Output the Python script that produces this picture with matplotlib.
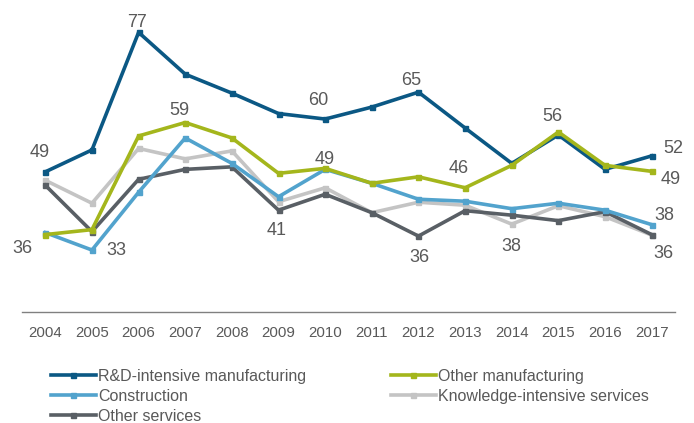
import matplotlib
matplotlib.use('Agg')
import matplotlib.pyplot as plt

plt.rcParams['font.family'] = ['Liberation Sans', 'DejaVu Sans']

years = ['2004', '2005', '2006', '2007', '2008', '2009', '2010',
         '2011', '2012', '2013', '2014', '2015', '2016', '2017']

rd_manuf = [49, 53.4, 77, 68.6, 64.8, 60.7, 59.6, 62.0, 65, 57.8, 50.7, 56.4, 49.5, 52.2]
other_manuf = [36.4, 37.4, 56.2, 58.9, 55.8, 48.7, 49.7, 46.7, 48.0, 45.8, 50.3, 57.0, 50.3, 49.1]
construction = [36.8, 33.3, 44.9, 55.8, 50.7, 44.0, 49.5, 46.7, 43.5, 43.1, 41.6, 42.7, 41.3, 38.4]
knowledge = [47.3, 42.7, 53.7, 51.6, 53.2, 43.0, 45.8, 40.8, 42.9, 42.3, 38.5, 42.2, 40.0, 36.3]
other_serv = [46.3, 37.0, 47.5, 49.5, 50.0, 41.3, 44.5, 40.8, 36.1, 41.2, 40.3, 39.2, 41.0, 36.4]

# (series, year index, label, dx px, dy px)
labels = [
    (rd_manuf, 0, '49', -6, 19),
    (other_manuf, 0, '36', -23, -14),
    (construction, 1, '33', 24, 0),
    (rd_manuf, 2, '77', -2, 10),
    (other_manuf, 3, '59', -6, 12),
    (other_serv, 5, '41', -2, -20),
    (rd_manuf, 6, '60', -7, 19),
    (construction, 6, '49', 0, 10),
    (rd_manuf, 8, '65', -7, 12),
    (other_serv, 8, '36', 1, -21),
    (other_manuf, 9, '46', -6, 19),
    (knowledge, 10, '38', 0, -22),
    (other_manuf, 11, '56', -6, 15),
    (rd_manuf, 13, '52', 22, 7),
    (other_manuf, 13, '49', 19, -8),
    (construction, 13, '38', 13, 9),
    (other_serv, 13, '36', 12, -19),
]

fig = plt.figure(figsize=(6.94, 4.23), dpi=100)
ax = fig.add_axes([22/694, (423-312.3)/423, (675-22)/694, 312.3/423])

x = list(range(len(years)))
lw = 2.6
ms = 3.6
l_ks, = ax.plot(x, knowledge, color='#C4C4C4', lw=lw, marker='s', ms=ms, label='Knowledge-intensive services', zorder=2)
l_os, = ax.plot(x, other_serv, color='#595F65', lw=lw, marker='s', ms=ms, label='Other services', zorder=3)
l_co, = ax.plot(x, construction, color='#52A3CD', lw=lw, marker='s', ms=ms, label='Construction', zorder=4)
l_rd, = ax.plot(x, rd_manuf, color='#0B5884', lw=lw, marker='s', ms=ms, label='R&D-intensive manufacturing', zorder=5)
l_om, = ax.plot(x, other_manuf, color='#A4B61C', lw=lw, marker='s', ms=ms, label='Other manufacturing', zorder=6)

for series, i, txt, dx, dy in labels:
    ax.annotate(txt, (i, series[i]), xytext=(dx, dy), textcoords='offset pixels',
                ha='center', va='center', fontsize=13, color='#595959')

ax.set_xlim(-0.5, len(years) - 0.5)
ax.set_ylim(20.8, 83.5)
ax.set_xticks(x)
ax.set_xticklabels(years)
ax.set_yticks([])
ax.tick_params(axis='x', length=0, pad=10, labelsize=10.8, labelcolor='#595959')
for s in ['top', 'right', 'left']:
    ax.spines[s].set_visible(False)
ax.spines['bottom'].set_color('#808080')
ax.spines['bottom'].set_linewidth(1)

handles = [l_rd, l_co, l_os, l_om, l_ks]
fig.legend(handles, [h.get_label() for h in handles], ncol=2,
           loc='upper left', bbox_to_anchor=(51/694, 1 - 369/423),
           frameon=False, fontsize=11.5, handlelength=2.8, handletextpad=0.15,
           labelspacing=0.3, columnspacing=5.3, labelcolor='#595959',
           borderaxespad=0, borderpad=0)

fig.savefig('out.png', dpi=100)
